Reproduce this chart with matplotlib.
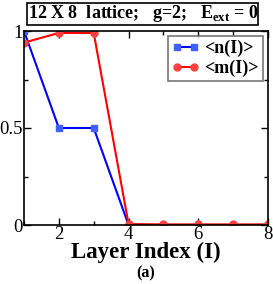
import matplotlib
matplotlib.use("Agg")
import matplotlib.pyplot as plt
from matplotlib.ticker import MultipleLocator
from matplotlib.patches import Rectangle

layers = [1, 2, 3, 4, 5, 6, 7, 8]
n_vals = [1.0, 0.5, 0.5, 0.0, 0.0, 0.0, 0.0, 0.0]
m_vals = [0.94, 0.99, 0.99, 0.005, 0.003, 0.003, 0.003, 0.003]

plt.rcParams['font.family'] = ['Liberation Serif', 'DejaVu Serif']
plt.rcParams['mathtext.fontset'] = 'custom'
plt.rcParams['mathtext.rm'] = 'Liberation Serif'
plt.rcParams['mathtext.bf'] = 'Liberation Serif:bold'

W, H = 273, 284
fig = plt.figure(figsize=(2.73, 2.84), dpi=100)
ax = fig.add_axes([24/W, 1-225/H, (268-24)/W, (225-31)/H])

ax.plot(layers, n_vals, color='#0000ff', marker='s', markersize=4, lw=1.5,
        markerfacecolor='#4060ff', markeredgecolor='#4060ff', label='<n(I)>')
ax.plot(layers, m_vals, color='#ff0000', marker='o', markersize=5, lw=1.5,
        markerfacecolor='#ff4040', markeredgecolor='#ff4040', label='<m(I)>')

ax.set_xlim(1, 8)
ax.set_ylim(0, 1)
ax.xaxis.set_major_locator(MultipleLocator(2))
ax.xaxis.set_minor_locator(MultipleLocator(1))
ax.yaxis.set_major_locator(MultipleLocator(0.5))
ax.yaxis.set_minor_locator(MultipleLocator(0.25))
ax.set_yticks([0, 0.5, 1])
ax.set_yticklabels(['0', '0.5', '1'])
ax.tick_params(which='both', direction='in', top=True, right=True, labelsize=13.5, pad=1)
ax.tick_params(which='major', length=5, width=1)
ax.tick_params(which='minor', length=3, width=1)
for s in ax.spines.values():
    s.set_linewidth(1.2)

ax.set_xlabel('Layer Index (I)', fontsize=16.5, fontweight='bold', labelpad=-1)

leg = ax.legend(loc='upper right', frameon=True, fancybox=False, numpoints=2,
                handlelength=1.5, handletextpad=0.3, borderpad=0.2,
                labelspacing=0.15, borderaxespad=0.3,
                prop={'weight': 'bold', 'size': 13})
leg.get_frame().set_edgecolor('#555555')
leg.get_frame().set_linewidth(1.2)

fig.patches.append(Rectangle((27/W, 1-25/H), (258-27)/W, 22/H, transform=fig.transFigure,
                             facecolor='white', edgecolor='black', linewidth=1.2, zorder=5))
fig.text(143/W, 1-14/H, r'12 X 8  lattice;   g=2;   E$_{\mathbf{ext}}$ = 0',
         ha='center', va='center', fontsize=13, fontweight='bold', zorder=6)
fig.text(0.535, 1-273/H, '(a)', ha='center', va='center', fontsize=11.5, fontweight='bold')

fig.savefig('out.png', dpi=100)
